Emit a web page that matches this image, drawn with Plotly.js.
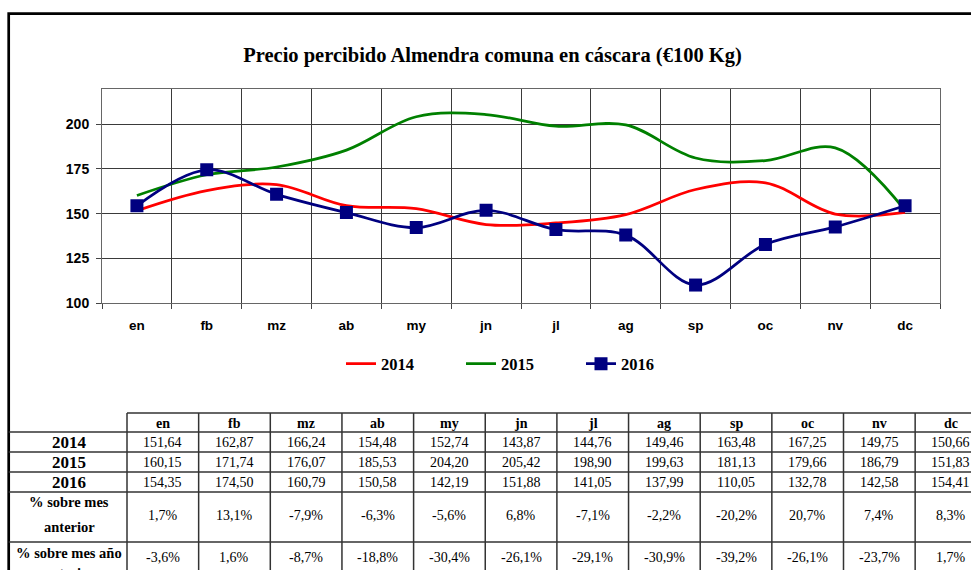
<!DOCTYPE html>
<html>
<head>
<meta charset="utf-8">
<script src="https://cdn.plot.ly/plotly-3.0.1.min.js"></script>
<style>html,body{margin:0;padding:0;background:#fff;}#chart{width:971px;height:570px;}</style>
</head>
<body>
<div id="chart"></div>
<script>
// ---- data ----
var months = ['en','fb','mz','ab','my','jn','jl','ag','sp','oc','nv','dc'];
var v2014 = [151.64,162.87,166.24,154.48,152.74,143.87,144.76,149.46,163.48,167.25,149.75,150.66];
var v2015 = [160.15,171.74,176.07,185.53,204.20,205.42,198.90,199.63,181.13,179.66,186.79,151.83];
var v2016 = [154.35,174.50,160.79,150.58,142.19,151.88,141.05,137.99,110.05,132.78,142.58,154.41];
var pctPrevMonth = [1.7,13.1,-7.9,-6.3,-5.6,6.8,-7.1,-2.2,-20.2,20.7,7.4,8.3];
var pctPrevYear = [-3.6,1.6,-8.7,-18.8,-30.4,-26.1,-29.1,-30.9,-39.2,-26.1,-23.7,1.7];
var seriesNames = ['2014','2015','2016'];
var rowLabels2 = [['% sobre mes','anterior'],['% sobre mes año','anterior']];
var titleText = 'Precio percibido Almendra comuna en cáscara (€100 Kg)';

// ---- helpers ----
var W = 971, H = 570;
function px(x){ return x / W; }
function py(y){ return 1 - y / H; }
function fmt2(v){ return v.toFixed(2).replace('.', ','); }
function fmtPct(v){ return v.toFixed(1).replace('.', ',') + '%'; }

var serif = 'Liberation Serif, Times New Roman, serif';
var sans = 'Liberation Sans, Arial, sans-serif';

var traces = [
  {x: months, y: v2014, name: seriesNames[0], type: 'scatter', mode: 'lines',
   line: {color: '#FF0000', width: 2.75, shape: 'spline', smoothing: 1}},
  {x: months, y: v2015, name: seriesNames[1], type: 'scatter', mode: 'lines',
   line: {color: '#008000', width: 2.75, shape: 'spline', smoothing: 1}},
  {x: months, y: v2016, name: seriesNames[2], type: 'scatter', mode: 'lines+markers',
   line: {color: '#000080', width: 2.75, shape: 'spline', smoothing: 1},
   marker: {symbol: 'square', size: 13, color: '#000080'}}
];

// ---- table geometry ----
var tblLeft = 8.7, colStart = 127, colW = 71.65, tblRight = 1000;
var rowLines = [413, 432, 452, 472, 492, 542, 600];
var shapes = [];
var annotations = [];

// outer frame
shapes.push({type: 'rect', xref: 'paper', yref: 'paper',
  x0: px(8.7), x1: px(1000), y0: py(13.7), y1: py(700),
  line: {color: '#000', width: 2.7}, fillcolor: 'rgba(0,0,0,0)', layer: 'above'});

// horizontal table lines
rowLines.forEach(function(y, i){
  if (i === rowLines.length - 1) return;
  shapes.push({type: 'line', xref: 'paper', yref: 'paper',
    x0: px(i === 0 ? colStart : tblLeft), x1: px(tblRight), y0: py(y), y1: py(y),
    line: {color: '#333', width: 1.5}});
});
// vertical table lines
for (var c = 0; c <= months.length; c++) {
  var xl = colStart + c * colW;
  shapes.push({type: 'line', xref: 'paper', yref: 'paper',
    x0: px(xl), x1: px(xl), y0: py(413), y1: py(700),
    line: {color: '#333', width: 1.5}});
}

function addText(x, y, text, size, bold){
  annotations.push({xref: 'paper', yref: 'paper', x: px(x), y: py(y),
    xanchor: 'center', yanchor: 'middle', showarrow: false, text: text,
    font: {family: serif, size: size, color: '#000', weight: bold ? 'bold' : 'normal'}});
}

var labelX = 69;
var yearRows = [v2014, v2015, v2016];
var yearRowY = [442.5, 462.5, 482.5];
months.forEach(function(m, i){
  var cx = colStart + colW * (i + 0.5);
  addText(cx, 423, m, 14, true);
  yearRows.forEach(function(arr, r){ addText(cx, yearRowY[r], fmt2(arr[i]), 14, false); });
  addText(cx, 515, fmtPct(pctPrevMonth[i]), 14, false);
  addText(cx, 557, fmtPct(pctPrevYear[i]), 14, false);
});
seriesNames.forEach(function(n, r){ addText(labelX, yearRowY[r], n, 17, true); });
addText(labelX, 502, rowLabels2[0][0], 14.5, true);
addText(labelX, 527, rowLabels2[0][1], 14.5, true);
addText(labelX, 553, rowLabels2[1][0], 14.5, true);
addText(labelX, 573, rowLabels2[1][1], 14.5, true);

var layout = {
  width: W, height: H,
  margin: {l: 0, r: 0, t: 0, b: 0},
  paper_bgcolor: '#fff', plot_bgcolor: '#fff',
  title: {text: titleText, x: px(492.5), xanchor: 'center', xref: 'paper',
          y: py(55), yanchor: 'middle', yref: 'paper',
          font: {family: serif, size: 20.5, color: '#000', weight: 'bold'}},
  xaxis: {domain: [px(102), px(940)], type: 'category', range: [-0.5, 11.5],
          tickson: 'boundaries', ticks: 'outside', ticklen: 5, tickcolor: '#444', tickwidth: 1,
          showgrid: true, gridcolor: '#3a3a3a', gridwidth: 1,
          showline: true, linecolor: '#666', linewidth: 1, mirror: true,
          ticklabelstandoff: 10,
          tickfont: {family: sans, size: 13.5, color: '#000', weight: 'bold'}},
  yaxis: {domain: [py(303), py(88.5)], range: [100, 220], tickvals: [100,125,150,175,200],
          ticks: 'outside', ticklen: 5, tickcolor: '#444', tickwidth: 1,
          showgrid: true, gridcolor: '#3a3a3a', gridwidth: 1, zeroline: false,
          showline: true, linecolor: '#666', linewidth: 1, mirror: true,
          ticklabelstandoff: 4,
          tickfont: {family: sans, size: 14, color: '#000', weight: 'bold'}},
  showlegend: true,
  legend: {orientation: 'h', x: px(341), xanchor: 'left', y: py(364), yanchor: 'middle',
           entrywidth: 75, itemwidth: 30, bgcolor: 'rgba(0,0,0,0)',
           font: {family: serif, size: 16.5, color: '#000', weight: 'bold'}},
  shapes: shapes,
  annotations: annotations
};

Plotly.newPlot('chart', traces, layout, {displayModeBar: false, staticPlot: true});
</script>
</body>
</html>
